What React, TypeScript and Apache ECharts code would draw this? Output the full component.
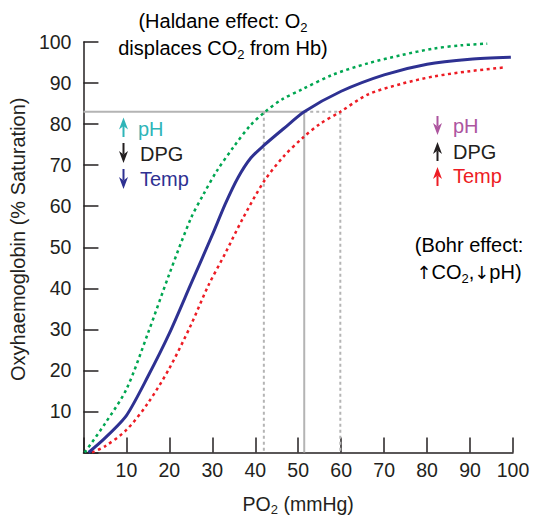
import React, { useEffect, useRef } from "react";
import * as echarts from "echarts";

// Normal oxyhaemoglobin dissociation curve (solid blue)
const normalPO2 = [1.2, 5, 10, 15, 20, 25, 30, 33, 36, 39, 42, 46.5, 51.4, 60, 70, 80, 90, 99.5];
const normalSat = [0, 3.5, 9, 18.5, 29, 41, 53, 60.5, 67, 71.8, 74.8, 78.8, 83, 88, 92, 94.6, 95.8, 96.3];

// Left-shifted curve (green dotted)
const leftPO2 = [0.3, 5, 10, 15, 20, 25, 28, 31, 35, 38.8, 42.3, 46.2, 50.8, 58, 66.2, 74, 81.5, 88, 94];
const leftSat = [0, 7, 15.4, 29, 43.5, 57, 63, 68.5, 74.5, 79.6, 83, 86, 88.4, 92, 94.8, 96.8, 98.4, 99.2, 99.6];

// Right-shifted curve (red dotted)
const rightPO2 = [2, 5, 10, 15, 20, 25, 29, 33, 37, 42, 46.5, 51.2, 55, 59.8, 66.2, 74, 81.5, 90, 98];
const rightSat = [0, 1.5, 5.5, 12, 20.5, 31, 40.5, 48.5, 56.8, 66, 72, 76.8, 80, 83, 87.2, 89.8, 91.6, 92.9, 93.8];

// Reference (gray) lines at 83 % saturation
const refSolidPO2 = [0, 51.4, 51.4];
const refSolidSat = [83, 83, 0];
const refDotRightPO2 = [51.4, 59.8, 59.8];
const refDotRightSat = [83, 83, 0];
const refDotLeftPO2 = [42, 42];
const refDotLeftSat = [83, 0];

// Axis ticks
const axisMin = 0;
const axisMax = 100;
const axisStep = 10;

const FONT = "'Liberation Sans', Arial, Helvetica, sans-serif";
const ARROW_FONT = "'DejaVu Sans', sans-serif";
const BLUE = "#2e3192";
const GREEN = "#00a651";
const RED = "#ed1c24";
const GRAY = "#b4b4b4";
const BLACK = "#231f20";
const CYAN = "#2fb5b8";
const MAGENTA = "#ad559f";

const zip = (xs: number[], ys: number[]) => xs.map((x, i) => [x, ys[i]]);

const richSub = (size: number, color: string) => ({
  m: { fontSize: size, color, fontFamily: FONT },
  a: { fontSize: size - 2, color, fontFamily: ARROW_FONT },
  s: { fontSize: 13, color, fontFamily: FONT, padding: [12, 0, 0, 0] },
});

function arrow(x: number, tail: number, head: number, color: string) {
  const dir = head < tail ? 1 : -1;
  const base = head + dir * 12;
  const notch = head + dir * 8.5;
  return {
    type: "group",
    children: [
      {
        type: "line",
        shape: { x1: x, y1: tail, x2: x, y2: notch },
        style: { stroke: color, lineWidth: 2 },
      },
      {
        type: "polygon",
        shape: { points: [[x, head], [x - 4.5, base], [x, notch], [x + 4.5, base]] },
        style: { fill: color },
      },
    ],
  };
}

function label(x: number, y: number, text: string, color: string) {
  return {
    type: "text",
    x,
    y,
    style: {
      text,
      fill: color,
      fontSize: 20,
      fontFamily: FONT,
      textAlign: "left",
      textVerticalAlign: "middle",
    },
  };
}

function richText(x: number, y: number, text: string, color: string, vAlign = "top") {
  return {
    type: "text",
    x,
    y,
    style: {
      text,
      rich: richSub(20, color),
      fontFamily: FONT,
      textAlign: "center",
      textVerticalAlign: vAlign,
    },
  };
}

export default function App() {
  const ref = useRef<HTMLDivElement>(null);

  useEffect(() => {
    if (!ref.current) return;
    const chart = echarts.init(ref.current, null, { renderer: "svg" });

    const axisCommon = {
      type: "value",
      min: axisMin,
      max: axisMax,
      interval: axisStep,
      splitLine: { show: false },
      axisLine: { show: true, lineStyle: { color: BLACK, width: 1.5 } },
      axisTick: { show: true, inside: true, length: 15, lineStyle: { color: BLACK, width: 1.5 } },
    };

    const option: any = {
      animation: false,
      backgroundColor: "#ffffff",
      grid: { left: 80, right: 23, top: 42, bottom: 63, containLabel: false },
      xAxis: {
        ...axisCommon,
        axisLabel: {
          margin: 7,
          fontSize: 19.5,
          color: BLACK,
          fontFamily: FONT,
          formatter: (v: number) => (v === 0 ? "" : String(v)),
        },
        name: "{m|PO}{s|2}{m| (mmHg)}",
        nameLocation: "middle",
        nameGap: 38.5,
        nameTextStyle: { rich: richSub(19.5, BLACK) },
      },
      yAxis: {
        ...axisCommon,
        axisLabel: {
          margin: 12,
          fontSize: 19.5,
          color: BLACK,
          fontFamily: FONT,
          formatter: (v: number) => (v === 0 ? "" : String(v)),
        },
        name: "Oxyhaemoglobin (% Saturation)",
        nameLocation: "middle",
        nameGap: 46,
        nameTextStyle: { fontSize: 20, color: BLACK, fontFamily: FONT, padding: [0, 0, 0, 16] },
      },
      series: [
        {
          type: "line",
          data: zip(refSolidPO2, refSolidSat),
          showSymbol: false,
          lineStyle: { color: GRAY, width: 2 },
          z: 1,
        },
        {
          type: "line",
          data: zip(refDotRightPO2, refDotRightSat),
          showSymbol: false,
          lineStyle: { color: GRAY, width: 2, type: [3, 3] },
          z: 1,
        },
        {
          type: "line",
          data: zip(refDotLeftPO2, refDotLeftSat),
          showSymbol: false,
          lineStyle: { color: GRAY, width: 2, type: [3, 3] },
          z: 1,
        },
        {
          type: "line",
          data: zip(leftPO2, leftSat),
          showSymbol: false,
          smooth: 0.3,
          lineStyle: { color: GREEN, width: 2.5, type: [3, 3.5] },
          z: 2,
        },
        {
          type: "line",
          data: zip(rightPO2, rightSat),
          showSymbol: false,
          smooth: 0.3,
          lineStyle: { color: RED, width: 2.5, type: [3, 3.5] },
          z: 2,
        },
        {
          type: "line",
          data: zip(normalPO2, normalSat),
          showSymbol: false,
          smooth: 0.25,
          lineStyle: { color: BLUE, width: 3 },
          z: 3,
        },
      ],
      graphic: [
        richText(223, 8.5, "{m|(Haldane effect: O}{s|2}", BLUE),
        richText(223, 35.5, "{m|displaces CO}{s|2}{m| from Hb)}", BLUE),
        richText(469, 245, "{m|(Bohr effect:}", BLUE, "middle"),
        richText(469, 259.5, "{a|↑}{m|CO}{s|2}{m|,}{a|↓}{m|pH)}", BLUE),
        arrow(123.5, 137, 117.5, CYAN),
        arrow(123.5, 143, 163, BLACK),
        arrow(123.5, 169, 189, BLUE),
        label(138, 128.5, "pH", CYAN),
        label(140, 153.5, "DPG", BLACK),
        label(140, 178.5, "Temp", BLUE),
        arrow(437.5, 116, 135, MAGENTA),
        arrow(437.5, 161, 142, BLACK),
        arrow(437.5, 186, 167, RED),
        label(453, 126, "pH", MAGENTA),
        label(453, 152, "DPG", BLACK),
        label(453, 176, "Temp", RED),
      ],
    };

    chart.setOption(option);
    return () => chart.dispose();
  }, []);

  return (
    <div
      ref={ref}
      style={{ position: "absolute", left: 0, top: 0, width: 536, height: 521 }}
    />
  );
}
